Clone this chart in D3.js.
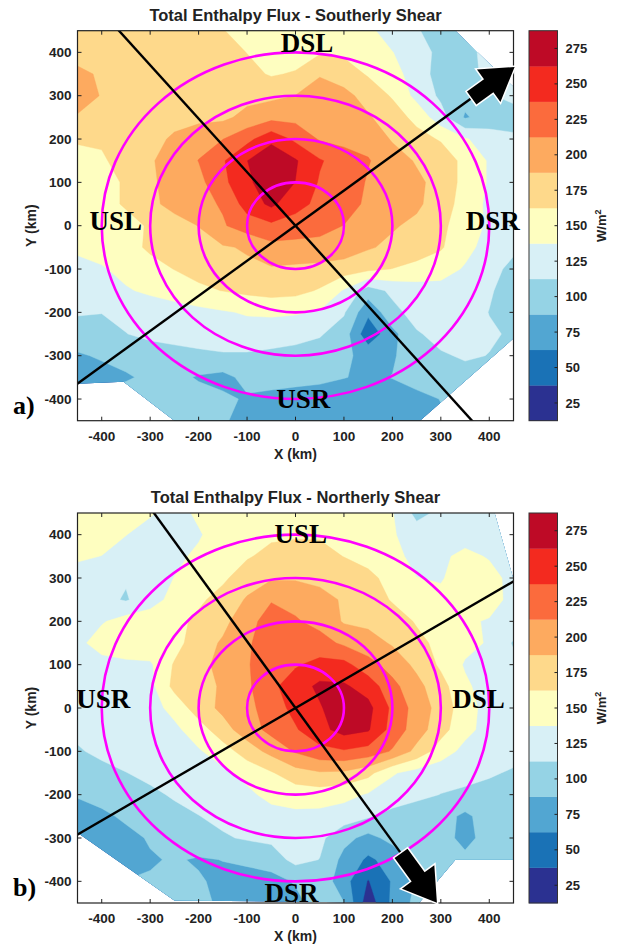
<!DOCTYPE html>
<html><head><meta charset="utf-8">
<script src="https://cdn.jsdelivr.net/npm/d3@7"></script>
<style>
body{margin:0;background:#fff}
svg{display:block}
text{font-family:"Liberation Sans",Arial,sans-serif}
.big{font-family:"Liberation Serif","Times New Roman",serif;font-weight:bold}
</style>
</head><body>
<svg id="chart" width="620" height="951"></svg>
<script>
// ---------- data ----------
const xTicks = [-400,-300,-200,-100,0,100,200,300,400];
const yTicks = [-400,-300,-200,-100,0,100,200,300,400];
const levelLabels = [25,50,75,100,125,150,175,200,225,250,275];
const bandColors = ["#2b3191","#1a72b6","#52a6d2","#95d3e5","#d8f0f6","#fefec0","#fed98b","#fdaa5f","#fb6b3d","#f32a1f","#be0a26"];
const ringRadii = [100,200,300,400];
const gridX = [-450,-400,-350,-300,-250,-200,-150,-100,-50,0,50,100,150,200,250,300,350,400,450];
const gridY = [450,400,350,300,250,200,150,100,50,0,-50,-100,-150,-200,-250,-300,-350,-400,-450];

// Southerly shear (rows top y=450 -> bottom y=-450, columns x=-450 -> 450), W m-2
const southerlyFlux = [
[178,178,178,178,178,176,163,158,152,150,150,148,142,128,115,100,118,125,125],
[180,180,178,178,178,176,172,162,152,150,160,158,150,138,125,105,105,120,125],
[192,185,180,180,178,178,176,170,160,165,185,175,160,145,128,100,105,118,125],
[200,186,180,180,178,178,178,180,182,188,202,195,178,160,130,108,95,110,120],
[185,180,178,178,178,180,182,195,205,205,208,202,190,175,155,122,85,98,100],
[165,165,170,178,192,205,212,230,255,232,210,205,205,185,172,160,140,125,118],
[155,160,170,185,198,213,235,262,285,265,240,225,214,200,185,178,155,135,122],
[150,155,165,183,198,205,232,255,285,262,235,228,210,205,193,178,155,135,120],
[150,155,165,182,195,205,215,248,268,245,232,225,207,203,192,175,152,132,118],
[145,148,155,165,178,188,210,225,232,228,220,212,205,190,182,170,145,135,120],
[142,148,155,166,175,180,185,190,205,203,205,202,190,182,175,165,145,128,118],
[130,135,145,155,163,170,178,183,185,183,180,175,168,162,155,148,135,122,105],
[125,128,135,142,150,158,163,168,172,170,160,135,100,118,125,128,125,115,102],
[115,113,118,122,125,130,135,140,142,140,135,115,68,105,122,125,122,112,100],
[100,105,112,118,120,122,125,125,122,120,115,100,45,80,110,120,120,115,110],
[85,90,95,100,105,108,110,110,108,105,100,92,80,85,100,110,115,112,110],
[80,80,85,92,95,85,80,95,98,95,92,88,85,88,95,100,105,105,105],
[95,95,98,100,100,98,92,85,80,78,78,78,78,80,82,88,95,100,100],
[100,100,100,100,100,95,90,80,76,75,75,75,76,78,80,85,95,100,100]
];

// Northerly shear
const northerlyFlux = [
[150,150,150,140,128,142,150,155,155,155,155,152,148,139,105,118,125,125,125],
[155,150,138,128,126,135,150,155,158,160,160,158,152,140,125,125,125,125,125],
[142,137,128,125,132,142,152,160,170,172,170,162,155,145,130,132,145,135,125],
[125,122,115,125,138,148,158,176,185,185,182,176,168,155,138,135,152,148,128],
[122,120,110,128,145,158,172,190,210,205,195,185,178,160,145,145,155,150,128],
[125,135,148,150,155,168,182,200,228,215,205,185,182,176,160,150,142,135,128],
[130,150,160,155,152,178,190,208,230,232,222,208,197,185,170,155,145,135,110],
[125,127,130,134,165,180,195,210,230,235,245,245,222,202,182,158,135,125,120],
[122,123,125,130,170,180,190,208,232,250,268,266,252,220,195,172,142,126,122],
[122,122,124,128,145,176,193,205,225,245,260,280,270,232,202,178,148,128,122],
[118,120,122,125,132,150,178,200,220,235,255,272,265,228,200,172,145,128,120],
[110,118,122,124,128,135,150,175,195,215,230,235,228,210,180,150,130,125,120],
[100,105,112,118,122,126,132,145,160,178,185,183,170,140,128,122,120,115,110],
[90,97,103,108,115,120,125,132,145,148,150,145,135,125,118,112,108,105,105],
[75,82,92,100,106,112,118,122,128,132,130,125,115,105,100,98,82,100,102],
[85,75,80,90,98,105,110,115,118,122,118,95,80,95,105,100,78,100,100],
[80,80,80,85,90,85,88,92,100,120,112,80,58,72,95,100,95,100,100],
[90,90,88,90,92,90,82,78,78,90,105,72,36,65,90,100,100,100,100],
[100,100,100,100,100,95,82,76,76,80,100,88,22,68,95,100,100,100,100]
];

// region covered by data (km); outside it the plot is blank
const southerlyHull = [[-450,450],[330,450],[450,320],[450,-260],[257,-450],[-250,-450],[-355,-360],[-450,-365]];
const northerlyHull = [[-450,450],[411,450],[450,296],[450,-350],[330,-350],[255,-450],[-250,-444],[-450,-288]];

const southerlyLabels = [["DSL",24,402],["USL",-371,-9],["DSR",407,-9],["USR",16,-420]];
const northerlyLabels = [["USL",11,381],["USR",-397,0],["DSL",378,0],["DSR",-8,-447]];

const panels = [
  {title:"Total Enthalpy Flux - Southerly Shear", values:southerlyFlux, hull:southerlyHull, labels:southerlyLabels,
   tag:"a)", shearDeg:39, arrowTail:468, arrowTip:582, top:30.7},
  {title:"Total Enthalpy Flux - Northerly Shear", values:northerlyFlux, hull:northerlyHull, labels:northerlyLabels,
   tag:"b)", shearDeg:-57, arrowTail:400, arrowTip:536, top:513}
];

// ---------- drawing ----------
const svg = d3.select("#chart");
const L = 77.5, R = 513.5, PH = 390;
const cbL = 529, cbR = 557.5;
const thresholds = [37.5,62.5,87.5,112.5,137.5,162.5,187.5,212.5,237.5,262.5];
const nx = gridX.length, ny = gridY.length;
const dxKm = gridX[1]-gridX[0], dyKm = gridY[0]-gridY[1];

panels.forEach((p,pi)=>{
  const T = p.top, B = p.top + PH;
  const xs = d3.scaleLinear().domain([-450,450]).range([L,R]);
  const ys = d3.scaleLinear().domain([-450,450]).range([B,T]);
  const g = svg.append("g");
  const defs = svg.append("defs");
  const rectId = "plotclip"+pi, hullId = "hullclip"+pi;
  defs.append("clipPath").attr("id",rectId).append("rect").attr("x",L).attr("y",T).attr("width",R-L).attr("height",PH);
  defs.append("clipPath").attr("id",hullId).append("polygon")
     .attr("points", p.hull.map(d=>[xs(d[0]),ys(d[1])].join(",")).join(" "));

  // filled contours
  const flat = [].concat(...p.values);
  const contours = d3.contours().size([nx,ny]).thresholds(thresholds)(flat);
  const proj = d3.geoTransform({point:function(gx,gy){
    this.stream.point(xs(gridX[0] + (gx-0.5)*dxKm), ys(gridY[0] - (gy-0.5)*dyKm));
  }});
  const path = d3.geoPath(proj);
  const cg = g.append("g").attr("clip-path",`url(#${rectId})`).append("g").attr("clip-path",`url(#${hullId})`);
  cg.append("rect").attr("x",L).attr("y",T).attr("width",R-L).attr("height",PH).attr("fill",bandColors[0]);
  cg.selectAll("path.band").data(contours).join("path").attr("class","band")
    .attr("d",path).attr("fill",(d,i)=>bandColors[i+1]).attr("stroke",(d,i)=>bandColors[i+1]).attr("stroke-width",0.4);

  // rings & lines
  const og = g.append("g").attr("clip-path",`url(#${rectId})`);
  og.selectAll("ellipse").data(ringRadii).join("ellipse")
    .attr("cx",xs(0)).attr("cy",ys(0)).attr("rx",r=>xs(r)-xs(0)).attr("ry",r=>ys(0)-ys(r))
    .attr("fill","none").attr("stroke","#ff00ff").attr("stroke-width",2.6);
  const a = p.shearDeg*Math.PI/180;
  const u = [Math.cos(a),Math.sin(a)], v = [-Math.sin(a),Math.cos(a)];
  const lineGen = d3.line().x(d=>xs(d[0])).y(d=>ys(d[1]));
  og.append("path").attr("d",lineGen([[-900*u[0],-900*u[1]],[p.arrowTail*u[0],p.arrowTail*u[1]]]))
    .attr("stroke","#000").attr("stroke-width",2.4).attr("fill","none");
  og.append("path").attr("d",lineGen([[-900*v[0],-900*v[1]],[900*v[0],900*v[1]]]))
    .attr("stroke","#000").attr("stroke-width",2.4).attr("fill","none");

  // frame & ticks
  g.append("rect").attr("x",L).attr("y",T).attr("width",R-L).attr("height",PH)
    .attr("fill","none").attr("stroke","#222").attr("stroke-width",1.2);
  const tk = 4;
  xTicks.forEach(t=>{
    g.append("line").attr("x1",xs(t)).attr("x2",xs(t)).attr("y1",B).attr("y2",B-tk).attr("stroke","#222");
    g.append("line").attr("x1",xs(t)).attr("x2",xs(t)).attr("y1",T).attr("y2",T+tk).attr("stroke","#222");
    g.append("text").attr("x",xs(t)).attr("y",B+20).attr("text-anchor","middle")
      .attr("font-size",13.5).attr("font-weight","bold").attr("fill","#222").text(t);
  });
  yTicks.forEach(t=>{
    g.append("line").attr("x1",L).attr("x2",L+tk).attr("y1",ys(t)).attr("y2",ys(t)).attr("stroke","#222");
    g.append("line").attr("x1",R).attr("x2",R-tk).attr("y1",ys(t)).attr("y2",ys(t)).attr("stroke","#222");
    g.append("text").attr("x",L-6).attr("y",ys(t)).attr("dy","0.35em").attr("text-anchor","end")
      .attr("font-size",13.5).attr("font-weight","bold").attr("fill","#222").text(t);
  });
  g.append("text").attr("x",(L+R)/2).attr("y",B+38).attr("text-anchor","middle")
    .attr("font-size",14).attr("font-weight","bold").attr("fill","#222").text("X (km)");
  g.append("text").attr("transform",`translate(36,${(T+B)/2}) rotate(-90)`).attr("text-anchor","middle")
    .attr("font-size",14).attr("font-weight","bold").attr("fill","#222").text("Y (km)");
  g.append("text").attr("x",(L+R)/2).attr("y",T-10).attr("text-anchor","middle")
    .attr("font-size",16.5).attr("font-weight","bold").attr("fill","#222").text(p.title);

  // quadrant labels
  p.labels.forEach(l=>{
    g.append("text").attr("class","big").attr("x",xs(l[1])).attr("y",ys(l[2])).attr("text-anchor","middle")
      .attr("font-size",27).attr("fill","#000").text(l[0]);
  });

  // arrow
  const tail = [xs(p.arrowTail*u[0]), ys(p.arrowTail*u[1])];
  const tip = [xs(p.arrowTip*u[0]), ys(p.arrowTip*u[1])];
  const dxp = tip[0]-tail[0], dyp = tip[1]-tail[1], len = Math.hypot(dxp,dyp);
  const ux = dxp/len, uy = dyp/len, nxp = -uy, nyp = ux;
  const hw1 = 8, hw2 = 20, hl = 32;
  const neck = [tip[0]-ux*hl, tip[1]-uy*hl];
  const pts = [
    [tail[0]+nxp*hw1, tail[1]+nyp*hw1],[neck[0]+nxp*hw1, neck[1]+nyp*hw1],[neck[0]+nxp*hw2, neck[1]+nyp*hw2],
    tip,[neck[0]-nxp*hw2, neck[1]-nyp*hw2],[neck[0]-nxp*hw1, neck[1]-nyp*hw1],[tail[0]-nxp*hw1, tail[1]-nyp*hw1]];
  g.append("polygon").attr("points",pts.map(d=>d.join(",")).join(" "))
    .attr("fill","#000").attr("stroke","#fff").attr("stroke-width",3).attr("stroke-linejoin","miter")
    .attr("paint-order","stroke");

  // panel tag
  g.append("text").attr("class","big").attr("x",13).attr("y",B-7).attr("font-size",26).attr("fill","#000").text(p.tag);

  // colorbar
  const cs = d3.scaleBand().domain(levelLabels).range([B,T]).paddingInner(0).paddingOuter(0);
  g.selectAll("rect.cb").data(levelLabels).join("rect").attr("class","cb")
    .attr("x",cbL).attr("y",d=>cs(d)).attr("width",cbR-cbL).attr("height",cs.bandwidth()+0.3)
    .attr("fill",(d,i)=>bandColors[i]);
  g.append("rect").attr("x",cbL).attr("y",T).attr("width",cbR-cbL).attr("height",PH)
    .attr("fill","none").attr("stroke","#333").attr("stroke-width",1);
  levelLabels.forEach(d=>{
    const yy = cs(d)+cs.bandwidth()/2;
    g.append("line").attr("x1",cbR).attr("x2",cbR-3).attr("y1",yy).attr("y2",yy).attr("stroke","#222");
    g.append("text").attr("x",cbR+8).attr("y",yy).attr("dy","0.35em").attr("font-size",13)
      .attr("font-weight","bold").attr("fill","#222").text(d);
  });
  const ut = g.append("text").attr("transform",`translate(606,${(T+B)/2}) rotate(-90)`).attr("text-anchor","middle")
    .attr("font-size",13).attr("font-weight","bold").attr("fill","#222");
  ut.append("tspan").text("W/m");
  ut.append("tspan").attr("dy",-5).attr("font-size",9).text("2");
});
</script>
</body></html>
